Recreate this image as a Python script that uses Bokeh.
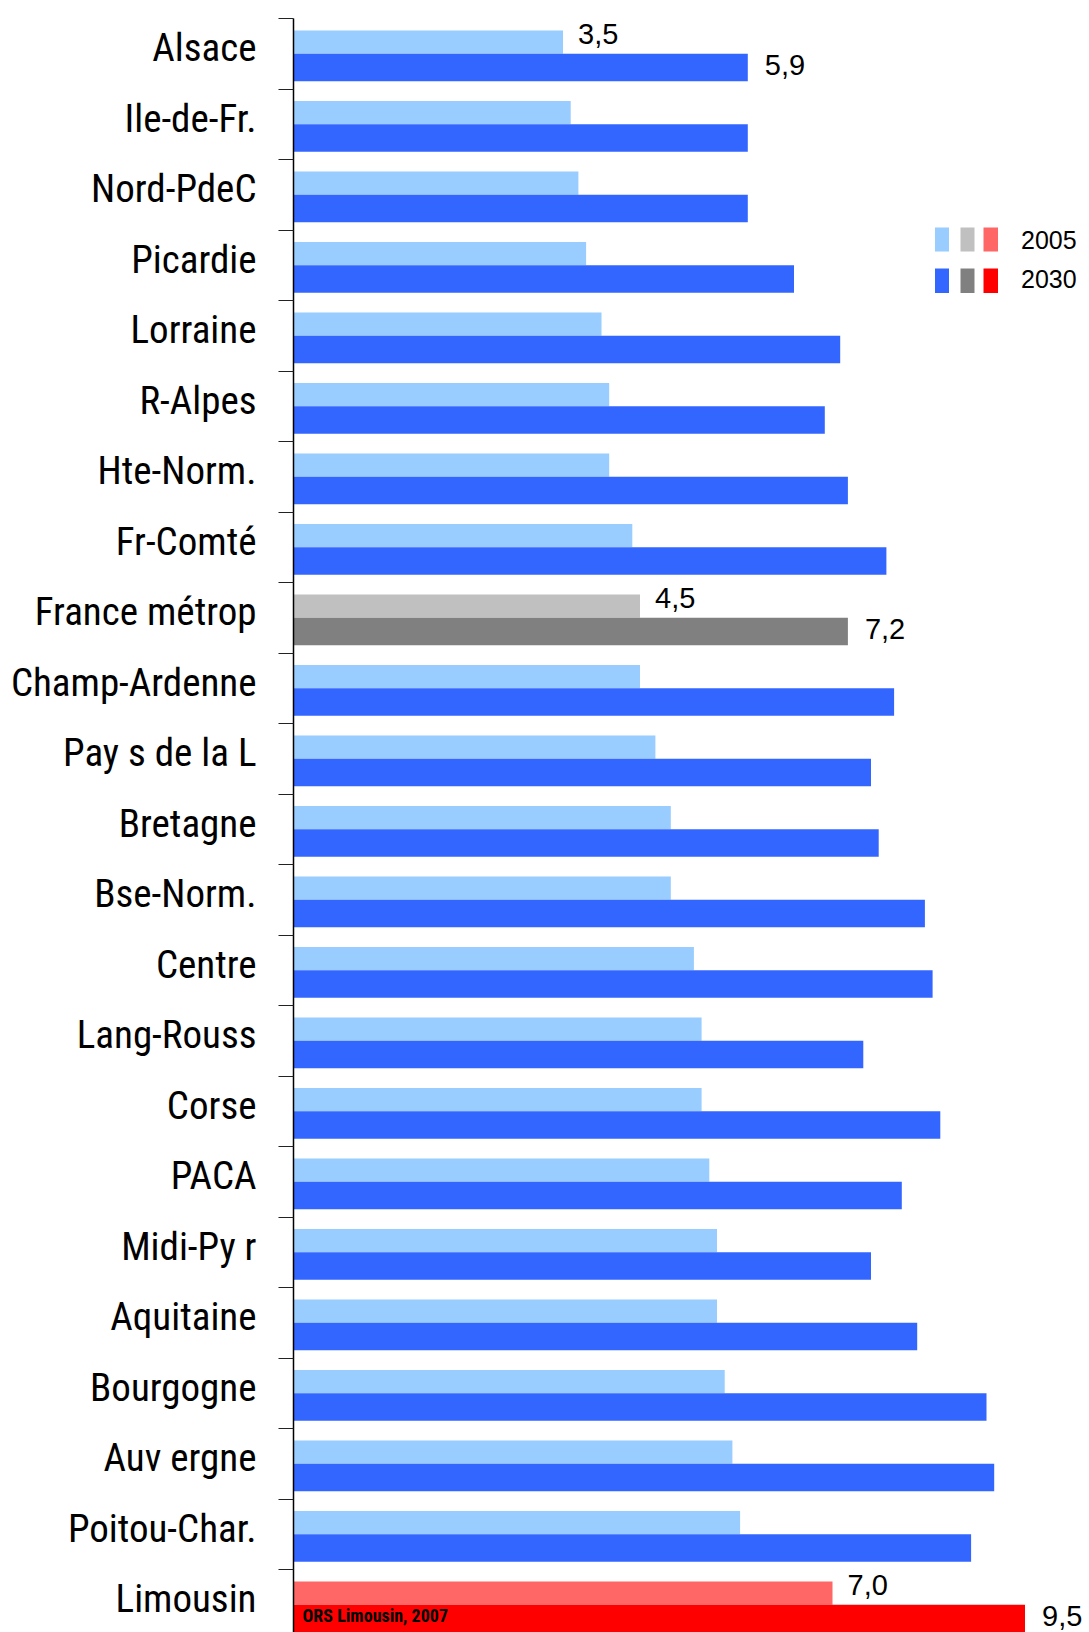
from bokeh.plotting import figure
from bokeh.models import Range1d, LinearAxis, FixedTicker, ColumnDataSource, CustomJSTickFormatter
from bokeh.transform import dodge
from bokeh.core.properties import value
from bokeh.embed import file_html
from bokeh.resources import INLINE

# ---------------- data ----------------
regions = ["Alsace", "Ile-de-Fr.", "Nord-PdeC", "Picardie", "Lorraine", "R-Alpes",
           "Hte-Norm.", "Fr-Comté", "France métrop", "Champ-Ardenne", "Pay s de la L",
           "Bretagne", "Bse-Norm.", "Centre", "Lang-Rouss", "Corse", "PACA", "Midi-Py r",
           "Aquitaine", "Bourgogne", "Auv ergne", "Poitou-Char.", "Limousin"]
v2005 = [3.5, 3.6, 3.7, 3.8, 4.0, 4.1, 4.1, 4.4, 4.5, 4.5, 4.7, 4.9, 4.9, 5.2, 5.3,
         5.3, 5.4, 5.5, 5.5, 5.6, 5.7, 5.8, 7.0]
v2030 = [5.9, 5.9, 5.9, 6.5, 7.1, 6.9, 7.2, 7.7, 7.2, 7.8, 7.5, 7.6, 8.2, 8.3, 7.4,
         8.4, 7.9, 7.5, 8.1, 9.0, 9.1, 8.8, 9.5]
series = ["2005", "2030"]
labelled = ["Alsace", "France métrop", "Limousin"]
source_note = "ORS Limousin, 2007"

# ---------------- style ----------------
LABEL_FONT = "Roboto Condensed"
NUM_FONT = "Liberation Sans"
col05 = {"regular": "#99CCFF", "france": "#C0C0C0", "limousin": "#FF6666"}
col30 = {"regular": "#3366FF", "france": "#808080", "limousin": "#FF0000"}

def kind(name):
    if name.startswith("France"):
        return "france"
    if name == "Limousin":
        return "limousin"
    return "regular"

n = len(regions)
PX_X = 77.0           # px per unit on x
PX_Y = 70.5           # px per band on y
BORDER_LEFT, BORDER_TOP = 293, 18
FRAME_W, FRAME_H = 1089 - BORDER_LEFT, 1632 - BORDER_TOP
Y_TOP = -0.42
Y_BOT = Y_TOP + FRAME_H / PX_Y

def X(px):  # page px -> data x
    return (px - BORDER_LEFT) / PX_X

def Y(py):  # page px -> data y
    return Y_TOP + (py - BORDER_TOP) / PX_Y

p = figure(frame_width=FRAME_W, frame_height=FRAME_H,
           x_range=Range1d(0, FRAME_W / PX_X), y_range=Range1d(Y_BOT, Y_TOP),
           output_backend="svg", toolbar_location=None,
           x_axis_location=None, y_axis_location=None,
           min_border_left=BORDER_LEFT, min_border_top=BORDER_TOP,
           min_border_right=0, min_border_bottom=0)
p.outline_line_color = None
p.grid.visible = False
p.background_fill_color = "white"

tick_axis = LinearAxis(ticker=FixedTicker(ticks=[i + Y_TOP for i in range(n + 1)]),
                       formatter=CustomJSTickFormatter(code="return ''"),
                       major_tick_out=15, major_tick_in=0,
                       minor_tick_line_color=None, major_label_standoff=0,
                       axis_line_color="black", axis_line_width=1.5,
                       major_tick_line_color="#222222", major_tick_line_width=1)
p.add_layout(tick_axis, "left")

label_axis = LinearAxis(ticker=FixedTicker(ticks=list(range(n))),
                        major_label_overrides={i: r for i, r in enumerate(regions)},
                        axis_line_color=None, major_tick_line_color=None,
                        minor_tick_line_color=None, major_label_standoff=16,
                        major_label_text_font=LABEL_FONT,
                        major_label_text_font_size="39px",
                        major_label_text_color="black")
p.add_layout(label_axis, "left")

src = ColumnDataSource(dict(
    y=list(range(n)), v05=v2005, v30=v2030,
    c05=[col05[kind(r)] for r in regions],
    c30=[col30[kind(r)] for r in regions],
))
p.hbar(y=dodge("y", -0.0845), left=0, right="v05", height=0.331,
       fill_color="c05", line_color=None, source=src)
p.hbar(y=dodge("y", 0.275), left=0, right="v30", height=0.388,
       fill_color="c30", line_color=None, source=src)

# value labels
fmt = lambda v: f"{v:.1f}".replace(".", ",")
idx = [regions.index(r) for r in labelled]
lab05 = ColumnDataSource(dict(x=[v2005[i] for i in idx], y=[i - 0.205 for i in idx],
                              t=[fmt(v2005[i]) for i in idx]))
lab30 = ColumnDataSource(dict(x=[v2030[i] for i in idx], y=[i + 0.24 for i in idx],
                              t=[fmt(v2030[i]) for i in idx]))
p.text(x="x", y="y", text="t", source=lab05, x_offset=15, text_baseline="alphabetic",
       text_font=value(NUM_FONT), text_font_size="29px", text_color="black")
p.text(x="x", y="y", text="t", source=lab30, x_offset=17, text_baseline="alphabetic",
       text_font=value(NUM_FONT), text_font_size="29px", text_color="black")

# source note inside Limousin bar
p.text(x=[0], y=[(n - 1) + 0.23], text=[source_note], x_offset=9,
       text_baseline="alphabetic", text_font=value(LABEL_FONT), text_font_style="bold",
       text_font_size="18px", text_color="black")

# legend (three swatches per year)
sw_cols = [(934.5, 948.5), (960.0, 974.0), (983.0, 997.5)]
sw_rows = [(227.0, 251.0), (268.0, 292.5)]
kinds = ["regular", "france", "limousin"]
for r, (yt, yb) in enumerate(sw_rows):
    cmap = col05 if r == 0 else col30
    p.quad(left=[X(a) for a, b in sw_cols], right=[X(b) for a, b in sw_cols],
           top=[Y(yt)] * 3, bottom=[Y(yb)] * 3,
           fill_color=[cmap[k] for k in kinds], line_color=None)
p.text(x=[X(1020.5)] * 2, y=[Y(239.0), Y(278.5)], text=series,
       text_baseline="alphabetic", text_font=value(NUM_FONT), text_font_size="25px",
       text_color="black")

open("out.html", "w").write(file_html(p, INLINE))
